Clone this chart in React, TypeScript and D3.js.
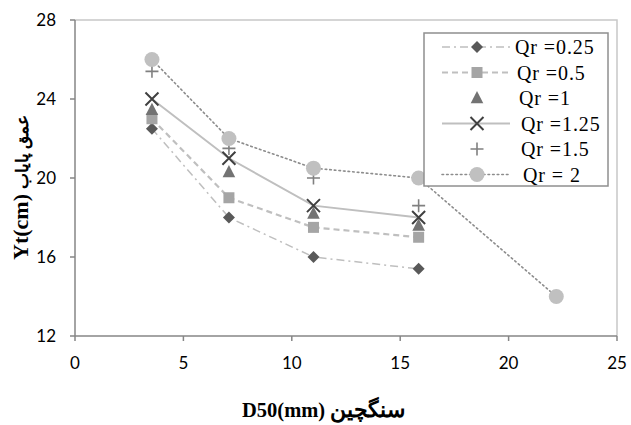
import React from "react";
import * as d3 from "d3";

const xTicks = [0, 5, 10, 15, 20, 25];
const yTicks = [12, 16, 20, 24, 28];
const xBase = [3.55, 7.1, 11.0, 15.85];
const xQr2 = [3.55, 7.1, 11.0, 15.85, 22.2];
const seriesNames = ["Qr =0.25", "Qr =0.5", "Qr =1", "Qr =1.25", "Qr =1.5", "Qr = 2"];
const qr025 = [22.5, 18.0, 16.0, 15.4];
const qr05 = [23.0, 19.0, 17.5, 17.0];
const qr1 = [23.45, 20.3, 18.2, 17.6];
const qr125 = [24.0, 21.0, 18.6, 18.0];
const qr15 = [25.4, 21.5, 20.0, 18.6];
const qr2 = [26.0, 22.0, 20.5, 20.0, 14.0];

type Style = {
  marker: string;
  color: string;
  line: string | null;
  lineColor: string;
  lineWidth: number;
  dash: string | null;
};

const styles: Style[] = [
  { marker: "diamond", color: "#595959", line: "y", lineColor: "#bfbfbf", lineWidth: 1.5, dash: "8,4,2,4" },
  { marker: "square", color: "#a5a5a5", line: "y", lineColor: "#bfbfbf", lineWidth: 2.2, dash: "6,4" },
  { marker: "triangle", color: "#737373", line: null, lineColor: "", lineWidth: 0, dash: null },
  { marker: "x", color: "#404040", line: "y", lineColor: "#bfbfbf", lineWidth: 2, dash: null },
  { marker: "plus", color: "#808080", line: null, lineColor: "", lineWidth: 0, dash: null },
  { marker: "circle", color: "#c0c0c0", line: "y", lineColor: "#8c8c8c", lineWidth: 1.6, dash: "1.6,3" },
];

const W = 631;
const H = 425;
const left = 75;
const right = 617;
const top = 20;
const bottom = 336;

function Marker({ type, x, y, color }: { type: string; x: number; y: number; color: string }) {
  if (type === "diamond") {
    const s = 6;
    return <path d={`M${x},${y - s}L${x + s},${y}L${x},${y + s}L${x - s},${y}Z`} fill={color} />;
  }
  if (type === "square") {
    const s = 5.5;
    return <rect x={x - s} y={y - s} width={2 * s} height={2 * s} fill={color} />;
  }
  if (type === "triangle") {
    const s = 7;
    return <path d={`M${x},${y - s}L${x + s * 0.9},${y + s * 0.75}L${x - s * 0.9},${y + s * 0.75}Z`} fill={color} />;
  }
  if (type === "x") {
    const s = 6.5;
    return (
      <path d={`M${x - s},${y - s}L${x + s},${y + s}M${x - s},${y + s}L${x + s},${y - s}`} stroke={color} strokeWidth={2} fill="none" />
    );
  }
  if (type === "plus") {
    const s = 6.5;
    return (
      <path d={`M${x - s},${y}L${x + s},${y}M${x},${y - s}L${x},${y + s}`} stroke={color} strokeWidth={1.6} fill="none" />
    );
  }
  return <circle cx={x} cy={y} r={7.5} fill={color} />;
}

export default function App() {
  const xs = d3.scaleLinear().domain([0, 25]).range([left, right]);
  const ys = d3.scaleLinear().domain([12, 28]).range([bottom, top]);
  const data: { xv: number[]; yv: number[] }[] = [
    { xv: xBase, yv: qr025 },
    { xv: xBase, yv: qr05 },
    { xv: xBase, yv: qr1 },
    { xv: xBase, yv: qr125 },
    { xv: xBase, yv: qr15 },
    { xv: xQr2, yv: qr2 },
  ];
  const line = d3
    .line<[number, number]>()
    .x((d) => xs(d[0]))
    .y((d) => ys(d[1]));

  const axisColor = "#868686";
  const tickFont = "Lato, 'Open Sans', sans-serif";
  const serif = "'Liberation Serif', 'DejaVu Serif', serif";

  const legX = 424;
  const legY = 33;
  const legW = 184;
  const legH = 153;
  const rowH = 25.5;
  const legTextX = [515, 517, 519, 521, 521, 523];

  return (
    <svg width={W} height={H} style={{ position: "absolute", left: 0, top: 0, background: "#fff" }}>
      <rect x={0} y={0} width={W} height={H} fill="#fff" />
      <path d={`M${left},${top}H${right}V${bottom}`} stroke="#c8c8c8" strokeWidth={1.5} fill="none" />
      <line x1={left} y1={top} x2={left} y2={bottom} stroke={axisColor} strokeWidth={1.5} />
      <line x1={left} y1={bottom} x2={right} y2={bottom} stroke={axisColor} strokeWidth={1.5} />
      {yTicks.map((t) => (
        <g key={"y" + t}>
          <line x1={left - 5} x2={left} y1={ys(t)} y2={ys(t)} stroke={axisColor} strokeWidth={1.5} />
          <text x={left - 19} y={ys(t)} dy="0.35em" textAnchor="end" fontFamily={tickFont} fontSize={17} fill="#000">
            {t}
          </text>
        </g>
      ))}
      {xTicks.map((t) => (
        <g key={"x" + t}>
          <line x1={xs(t)} x2={xs(t)} y1={bottom} y2={bottom + 5} stroke={axisColor} strokeWidth={1.5} />
          <text x={xs(t)} y={bottom + 27} dy="0.35em" textAnchor="middle" fontFamily={tickFont} fontSize={17} fill="#000">
            {t}
          </text>
        </g>
      ))}
      {data.map((s, i) =>
        styles[i].line ? (
          <path
            key={"l" + i}
            d={line(s.xv.map((xv, j) => [xv, s.yv[j]] as [number, number])) || ""}
            fill="none"
            stroke={styles[i].lineColor}
            strokeWidth={styles[i].lineWidth}
            strokeDasharray={styles[i].dash || undefined}
            strokeLinecap={i === 5 ? "round" : "butt"}
          />
        ) : null
      )}
      {data.map((s, i) => (
        <g key={"m" + i}>
          {s.xv.map((xv, j) => (
            <Marker key={j} type={styles[i].marker} x={xs(xv)} y={ys(s.yv[j])} color={styles[i].color} />
          ))}
        </g>
      ))}
      <rect x={legX} y={legY} width={legW} height={legH} fill="#fff" stroke="#8f8f8f" strokeWidth={1.5} />
      {seriesNames.map((name, i) => {
        const cy = legY + 14 + i * rowH;
        const st = styles[i];
        return (
          <g key={"lg" + i}>
            {st.line ? (
              <line
                x1={legX + 18}
                x2={legX + 86}
                y1={cy}
                y2={cy}
                stroke={st.lineColor}
                strokeWidth={st.lineWidth}
                strokeDasharray={st.dash || undefined}
                strokeLinecap={i === 5 ? "round" : "butt"}
              />
            ) : null}
            <Marker type={st.marker} x={legX + 53} y={cy} color={st.color} />
            <text x={legTextX[i]} y={cy} dy="0.35em" fontFamily={serif} fontSize={20} letterSpacing={0.9} fill="#000">
              {name}
            </text>
          </g>
        );
      })}
      <text x={242} y={417} fontFamily={serif} fontWeight="bold" fontSize={20.5} fill="#000">
        D50(mm)
      </text>
      <text x={330} y={417} fontFamily={serif} fontWeight="bold" fontSize={22} fill="#000">
        سنگچین
      </text>
      <g transform="translate(28,260) rotate(-90)">
        <text x={0} y={0} fontFamily={serif} fontWeight="bold" fontSize={22} fill="#000">
          Yt(cm)
        </text>
        <text x={71} y={0} fontFamily={serif} fontWeight="bold" fontSize={17} fill="#000">
          عمق پایاب
        </text>
      </g>
    </svg>
  );
}
